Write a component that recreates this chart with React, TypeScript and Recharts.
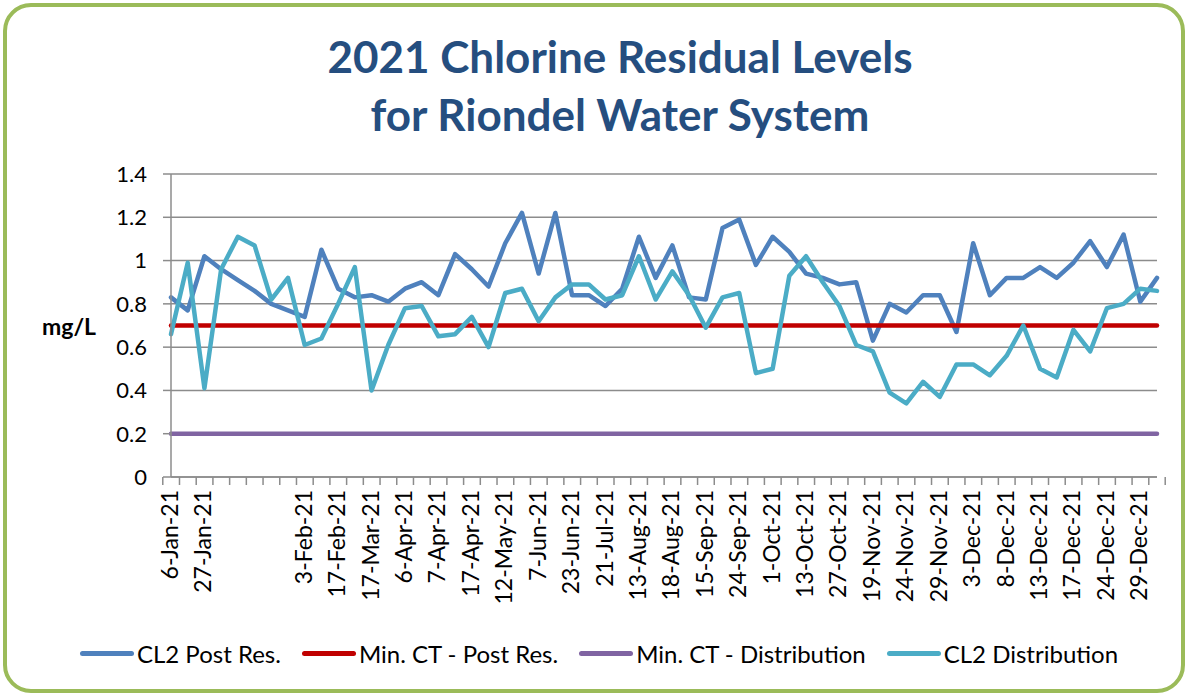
import React from "react";
import { LineChart, Line, XAxis, YAxis, CartesianGrid } from "recharts";

// tick labels under the x axis (only every other sample is labelled)
const tickLabels = [
  "6-Jan-21", "", "27-Jan-21", "", "", "", "", "", "3-Feb-21", "",
  "17-Feb-21", "", "17-Mar-21", "", "6-Apr-21", "", "7-Apr-21", "", "17-Apr-21", "",
  "12-May-21", "", "7-Jun-21", "", "23-Jun-21", "", "21-Jul-21", "", "13-Aug-21", "",
  "18-Aug-21", "", "15-Sep-21", "", "24-Sep-21", "", "1-Oct-21", "", "13-Oct-21", "",
  "27-Oct-21", "", "19-Nov-21", "", "24-Nov-21", "", "29-Nov-21", "", "3-Dec-21", "",
  "8-Dec-21", "", "13-Dec-21", "", "17-Dec-21", "", "24-Dec-21", "", "29-Dec-21", "",
];

const cl2PostRes = [
  0.83, 0.77, 1.02, 0.96, 0.91, 0.86, 0.8, 0.77, 0.74, 1.05,
  0.87, 0.83, 0.84, 0.81, 0.87, 0.9, 0.84, 1.03, 0.96, 0.88,
  1.08, 1.22, 0.94, 1.22, 0.84, 0.84, 0.79, 0.87, 1.11, 0.92,
  1.07, 0.83, 0.82, 1.15, 1.19, 0.98, 1.11, 1.04, 0.94, 0.92,
  0.89, 0.9, 0.63, 0.8, 0.76, 0.84, 0.84, 0.67, 1.08, 0.84,
  0.92, 0.92, 0.97, 0.92, 0.99, 1.09, 0.97, 1.12, 0.81, 0.92,
];

const cl2Distribution = [
  0.66, 0.99, 0.41, 0.96, 1.11, 1.07, 0.82, 0.92, 0.61, 0.64,
  0.8, 0.97, 0.4, 0.61, 0.78, 0.79, 0.65, 0.66, 0.74, 0.6,
  0.85, 0.87, 0.72, 0.83, 0.89, 0.89, 0.82, 0.84, 1.02, 0.82,
  0.95, 0.84, 0.69, 0.83, 0.85, 0.48, 0.5, 0.93, 1.02, 0.9,
  0.79, 0.61, 0.58, 0.39, 0.34, 0.44, 0.37, 0.52, 0.52, 0.47,
  0.56, 0.7, 0.5, 0.46, 0.68, 0.58, 0.78, 0.8, 0.87, 0.86,
];

const minCtPostRes = 0.7;
const minCtDistribution = 0.2;

const yTicks = [0, 0.2, 0.4, 0.6, 0.8, 1, 1.2, 1.4];

const series = [
  { key: "post", name: "CL2 Post Res.", color: "#4F81BD" },
  { key: "minPost", name: "Min. CT - Post Res.", color: "#C00000" },
  { key: "minDist", name: "Min. CT - Distribution", color: "#8064A2" },
  { key: "dist", name: "CL2 Distribution", color: "#4BACC6" },
];

const data = tickLabels.map((label, i) => ({
  i,
  label,
  post: cl2PostRes[i],
  minPost: minCtPostRes,
  minDist: minCtDistribution,
  dist: cl2Distribution[i],
}));

const W = 1188;
const H = 696;
const PLOT_LEFT = 171;
const PLOT_RIGHT = 31;
const BAND = (W - PLOT_LEFT - PLOT_RIGHT) / data.length;
const GRID = "#8c8c8c";
const FONT = "Lato, 'Open Sans', sans-serif";

function XTick(props: any) {
  const { x, y, payload } = props;
  const i = payload.value as number;
  const last = i === data.length - 1;
  return (
    <g>
      <line x1={x - BAND / 2} x2={x - BAND / 2} y1={y} y2={y + 8} stroke={GRID} strokeWidth={1.5} />
      {last && (
        <line x1={x + BAND / 2} x2={x + BAND / 2} y1={y} y2={y + 8} stroke={GRID} strokeWidth={1.5} />
      )}
      <text
        x={0}
        y={0}
        transform={`translate(${x + 7},${y + 13}) rotate(-90)`}
        textAnchor="end"
        fontSize={23}
        fontFamily={FONT}
        fill="#000"
      >
        {tickLabels[i]}
      </text>
    </g>
  );
}

export default function App() {
  return (
    <div style={{ position: "absolute", left: 0, top: 0, width: W, height: H, background: "#fff", fontFamily: FONT }}>
      <div
        style={{
          position: "absolute",
          left: 3,
          top: 3,
          width: W - 6,
          height: H - 6,
          boxSizing: "border-box",
          border: "4.5px solid #9BBB59",
          borderRadius: 28,
        }}
      />
      <div
        style={{
          position: "absolute",
          left: 0,
          top: 27,
          width: 1240,
          textAlign: "center",
          fontSize: 44,
          lineHeight: "58px",
          fontWeight: 700,
          color: "#254E7F",
        }}
      >
        2021 Chlorine Residual Levels
        <br />
        for Riondel Water System
      </div>
      <div style={{ position: "absolute", left: 42, top: 312, fontSize: 23, fontWeight: 700, color: "#000" }}>
        mg/L
      </div>
      <div style={{ position: "absolute", left: 0, top: 0 }}>
        <LineChart width={W} height={H} data={data} margin={{ top: 174, right: PLOT_RIGHT, bottom: 99, left: 0 }}>
          <CartesianGrid vertical={false} stroke={GRID} strokeWidth={1.5} />
          <XAxis
            dataKey="i"
            type="category"
            interval={0}
            height={120}
            tickLine={false}
            tickSize={0}
            tickMargin={0}
            axisLine={{ stroke: GRID, strokeWidth: 1.5 }}
            tick={<XTick />}
          />
          <YAxis
            width={PLOT_LEFT}
            domain={[0, 1.4]}
            ticks={yTicks}
            tickSize={8}
            tickMargin={16}
            tickLine={{ stroke: GRID, strokeWidth: 1.5 }}
            axisLine={{ stroke: GRID, strokeWidth: 1.5 }}
            tick={{ fontSize: 22, fill: "#000", fontFamily: FONT }}
          />
          {series.map((s) => (
            <Line
              key={s.key}
              dataKey={s.key}
              name={s.name}
              type="linear"
              stroke={s.color}
              strokeWidth={4.5}
              strokeLinecap="round"
              strokeLinejoin="round"
              dot={false}
              activeDot={false}
              isAnimationActive={false}
            />
          ))}
        </LineChart>
      </div>
      <div
        style={{
          position: "absolute",
          left: 0,
          top: 639,
          width: 1198,
          display: "flex",
          justifyContent: "center",
          alignItems: "center",
          fontSize: 24,
          color: "#000",
        }}
      >
        {series.map((s, k) => (
          <div key={s.key} style={{ display: "flex", alignItems: "center", marginRight: k < series.length - 1 ? 21 : 0 }}>
            <div style={{ width: 54, height: 5, borderRadius: 3, background: s.color, marginRight: 3 }} />
            <span>{s.name}</span>
          </div>
        ))}
      </div>
    </div>
  );
}
